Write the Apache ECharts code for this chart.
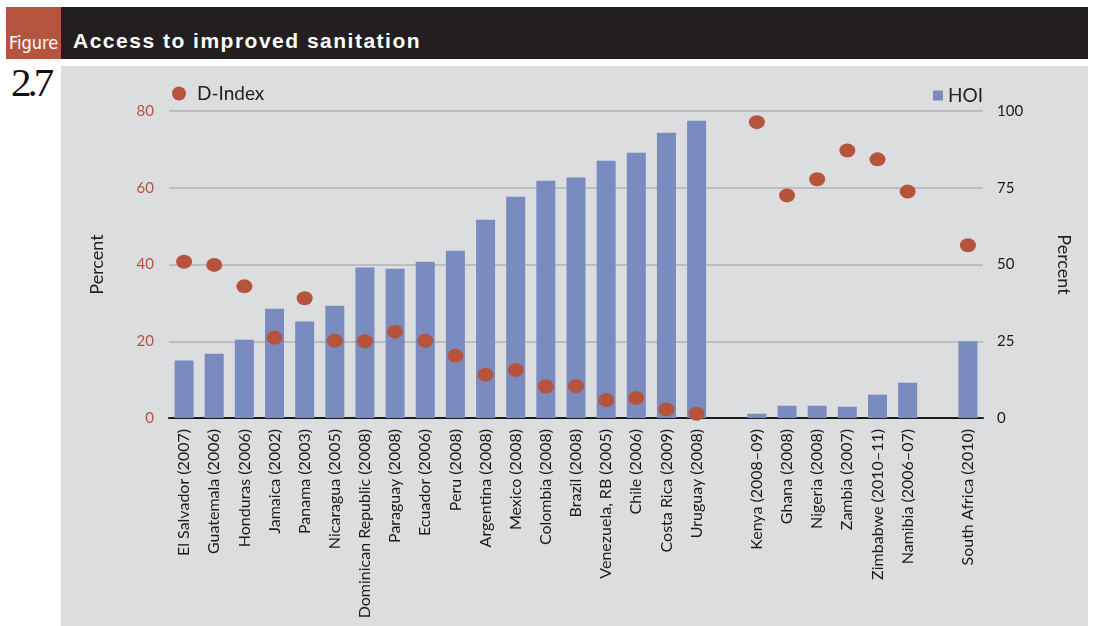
<!DOCTYPE html>
<html>
<head>
<meta charset="utf-8">
<script src="https://cdn.jsdelivr.net/npm/echarts@6/dist/echarts.min.js"></script>
<style>
  html, body { margin: 0; padding: 0; background: #ffffff; }
  body { width: 1100px; height: 626px; position: relative; overflow: hidden; }
  #tag { position: absolute; left: 6px; top: 7px; width: 55px; height: 52px; background: #b6553f; }
  #tag span { position: absolute; left: 3px; bottom: 6px; color: #fff; font-family: "Liberation Sans Narrow", "DejaVu Sans Condensed", sans-serif; font-size: 18px; }
  #bar { position: absolute; left: 61px; top: 7px; width: 1027px; height: 52px; background: #231f20; }
  #bar span { position: absolute; left: 12px; bottom: 6px; color: #fff; font-family: "Liberation Sans", sans-serif; font-weight: bold; font-size: 21px; letter-spacing: 1.5px; }
  #num { position: absolute; left: 11px; top: 58px; font-family: "Liberation Serif", serif; font-size: 41px; letter-spacing: -4px; color: #111; }
  #chart { position: absolute; left: 61px; top: 66px; width: 1027px; height: 560px; background: #dcdddf; }
</style>
</head>
<body>
<div id="tag"><span>Figure</span></div>
<div id="bar"><span>Access to improved sanitation</span></div>
<div id="num">2.7</div>
<div id="chart"></div>
<script>
// Countries (survey years); empty strings separate the Latin American and African groups
const categories = [
  'El Salvador (2007)', 'Guatemala (2006)', 'Honduras (2006)', 'Jamaica (2002)',
  'Panama (2003)', 'Nicaragua (2005)', 'Dominican Republic (2008)', 'Paraguay (2008)',
  'Ecuador (2006)', 'Peru (2008)', 'Argentina (2008)', 'Mexico (2008)',
  'Colombia (2008)', 'Brazil (2008)', 'Venezuela, RB (2005)', 'Chile (2006)',
  'Costa Rica (2009)', 'Uruguay (2008)', '',
  'Kenya (2008–09)', 'Ghana (2008)', 'Nigeria (2008)', 'Zambia (2007)',
  'Zimbabwe (2010–11)', 'Namibia (2006–07)', '', 'South Africa (2010)'
];

// Human Opportunity Index, percent (right axis)
const hoiValues = [
  18.7, 20.9, 25.5, 35.6, 31.4, 36.6, 49.0, 48.6, 50.9, 54.5, 64.6, 72.1,
  77.3, 78.3, 83.8, 86.4, 92.9, 96.8, null,
  1.4, 4.0, 4.0, 3.7, 7.6, 11.5, null, 25.0
];

// Dissimilarity index, percent (left axis)
const dIndexValues = [
  40.7, 39.9, 34.3, 20.9, 31.2, 20.1, 20.0, 22.5, 20.1, 16.2, 11.3, 12.5,
  8.2, 8.3, 4.7, 5.2, 2.2, 1.1, null,
  77.1, 58.0, 62.2, 69.7, 67.4, 59.0, null, 45.0
];

const leftTicks = { min: 0, max: 80, interval: 20 };
const rightTicks = { min: 0, max: 100, interval: 25 };

const FONT = 'Lato, "Open Sans", sans-serif';
const RED = '#b6533d';
const BLUE = '#7a8cbf';

const chart = echarts.init(document.getElementById('chart'));
chart.setOption({
  animation: false,
  textStyle: { fontFamily: FONT },
  grid: { left: 108, right: 105, top: 45, bottom: 208, containLabel: false },
  legend: [
    {
      data: [{ name: 'D-Index', icon: 'circle' }],
      left: 106, top: 13,
      itemWidth: 16, itemHeight: 14,
      textStyle: { fontFamily: FONT, fontSize: 19, color: '#222', padding: [0, 0, 0, 5] }
    },
    {
      data: [{ name: 'HOI', icon: 'rect' }],
      right: 100, top: 15,
      itemWidth: 10, itemHeight: 10,
      textStyle: { fontFamily: FONT, fontSize: 19, color: '#222' }
    }
  ],
  xAxis: {
    type: 'category',
    data: categories,
    boundaryGap: true,
    axisLine: { lineStyle: { color: '#1a1a1a', width: 2 } },
    axisTick: { show: false },
    axisLabel: {
      interval: 0, rotate: 90, margin: 11,
      fontFamily: FONT, fontSize: 16, color: '#1a1a1a'
    }
  },
  yAxis: [
    {
      type: 'value',
      min: leftTicks.min, max: leftTicks.max, interval: leftTicks.interval,
      name: 'Percent', nameLocation: 'middle', nameGap: 63,
      nameTextStyle: { fontFamily: FONT, fontSize: 18, color: '#222' },
      axisLine: { show: false },
      axisTick: { show: false },
      axisLabel: { fontFamily: FONT, fontSize: 15, color: RED, margin: 15 },
      splitLine: { lineStyle: { color: '#bdbdbf', width: 2 } }
    },
    {
      type: 'value',
      min: rightTicks.min, max: rightTicks.max, interval: rightTicks.interval,
      name: 'Percent', nameLocation: 'middle', nameGap: 72, nameRotate: -90,
      nameTextStyle: { fontFamily: FONT, fontSize: 18, color: '#222' },
      axisLine: { show: false },
      axisTick: { show: false },
      axisLabel: { fontFamily: FONT, fontSize: 15, color: '#1a1a1a', margin: 14 },
      splitLine: { show: false }
    }
  ],
  series: [
    {
      name: 'HOI',
      type: 'bar',
      yAxisIndex: 1,
      data: hoiValues,
      barWidth: 19,
      itemStyle: { color: BLUE }
    },
    {
      name: 'D-Index',
      type: 'scatter',
      yAxisIndex: 0,
      data: dIndexValues,
      symbol: 'circle',
      symbolSize: [16, 14],
      itemStyle: { color: RED, opacity: 1 },
      z: 3
    }
  ]
});
</script>
</body>
</html>
